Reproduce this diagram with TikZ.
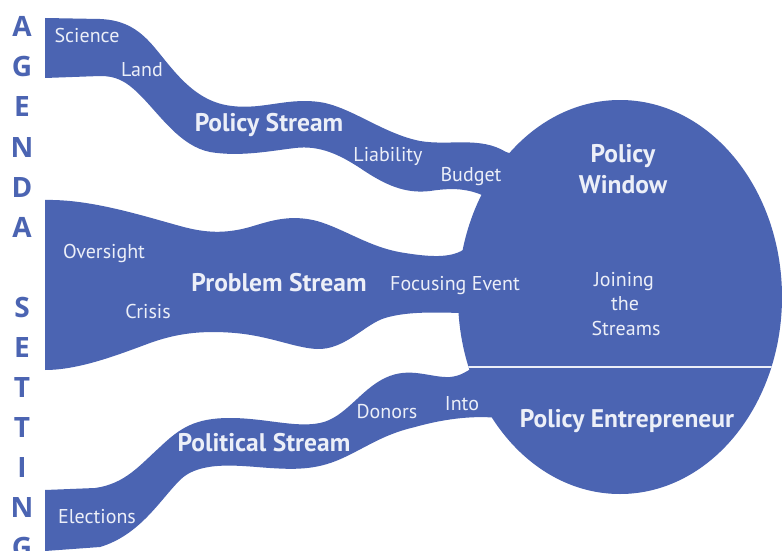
\documentclass[tikz,border=0pt]{standalone}
\usepackage{fontspec}
\setmainfont{PT Sans}
\newfontfamily\sideletterfont{Open Sans}

\definecolor{streamblue}{RGB}{75,100,178}
\definecolor{streamtext}{RGB}{236,239,248}

\tikzset{
	stream/.style={fill=streamblue, draw=none},
	streamword/.style={text=streamtext, anchor=base, inner sep=0pt, font=\fontsize{20}{23}\selectfont},
	streamname/.style={text=streamtext, anchor=base, inner sep=0pt, font=\bfseries\fontsize{25.5}{28}\selectfont},
	sideletter/.style={text=streamblue, anchor=base, inner sep=0pt, font=\sideletterfont\bfseries\fontsize{28}{30}\selectfont}
}

\begin{document}
\begin{tikzpicture}[x=1pt, y=-1pt]
				% window setup
				
				\def\cx{620}
				\def\cy{297}
				
				\def\rx{162}
				\def\ry{197}
				
				\clip (0,0) rectangle (782,551);
				\fill[white] (0,0) rectangle (782,551);
				
				% policy stream
				\fill[stream] (45,18) -- (100,19)
					.. controls (125,20) and (140,30) .. (155,48)
					.. controls (175,72) and (195,102) .. (232,106)
					.. controls (265,110) and (290,96) .. (325,103)
					.. controls (355,110) and (385,134) .. (420,141)
					.. controls (450,146) and (480,136) .. (506,152)
					-- (560,170) -- (530,200) -- (482,195)
					.. controls (465,188) and (450,188) .. (430,191)
					.. controls (405,194) and (385,185) .. (360,168)
					.. controls (340,155) and (320,145) .. (295,148)
					.. controls (270,151) and (240,157) .. (210,152)
					.. controls (180,146) and (160,115) .. (140,95)
					.. controls (125,80) and (115,76) .. (100,76)
					-- (45,78) -- cycle;
				
				% problem stream
				\fill[stream] (45,200)
					.. controls (90,199) and (140,215) .. (180,226)
					.. controls (205,233) and (225,234) .. (250,227)
					.. controls (270,221) and (290,214) .. (317,221)
					.. controls (345,229) and (370,248) .. (405,253)
					.. controls (430,257) and (450,258) .. (463,250)
					-- (530,250) -- (530,313) -- (460,313)
					.. controls (430,312) and (405,312) .. (385,318)
					.. controls (365,324) and (345,350) .. (317,349)
					.. controls (295,348) and (270,336) .. (235,333)
					.. controls (200,330) and (175,334) .. (150,343)
					.. controls (120,354) and (80,370) .. (45,370)
					-- cycle;
				
				% political stream
				\fill[stream] (45,490) -- (95,488)
					.. controls (125,484) and (140,465) .. (160,447)
					.. controls (180,428) and (195,418) .. (230,418)
					.. controls (265,418) and (295,428) .. (320,423)
					.. controls (345,418) and (360,390) .. (385,378)
					.. controls (410,366) and (430,378) .. (450,377)
					.. controls (460,376) and (466,372) .. (472,368)
					-- (540,380) -- (540,420) -- (498,418)
					.. controls (470,415) and (440,420) .. (415,427)
					.. controls (385,434) and (370,445) .. (345,457)
					.. controls (320,469) and (300,470) .. (270,468)
					.. controls (240,466) and (200,460) .. (180,480)
					.. controls (160,500) and (140,535) .. (100,547)
					-- (45,551) -- (45,560) -- cycle;
				
				% policy window
				\fill[stream] (\cx,\cy) ellipse [x radius=\rx, y radius=\ry];
				\begin{scope}
					\clip (\cx,\cy) ellipse [x radius=\rx, y radius=\ry];
					\draw[streamtext, line width=1.5pt] (0,367) -- (782,367);
				\end{scope}
				
				% words
				\node[streamword] (science) at (87,43) {Science};
				\node[streamword] (land) at (142,77) {Land};
				\node[streamname] (policy) at (269,131) {Policy Stream};
				\node[streamword] (liability) at (388,161) {Liability};
				\node[streamword] (budget) at (471,181) {Budget};
				\node[streamname] (window1) at (623,162) {Policy};
				\node[streamname] (window2) at (623,193) {Window};
				\node[streamword] (oversight) at (104,258) {Oversight};
				\node[streamname] (problem) at (279,291) {Problem Stream};
				\node[streamword] (crisis) at (148,318) {Crisis};
				\node[streamword] (focusing) at (455,290) {Focusing Event};
				\node[streamword] (joining1) at (624,286) {Joining};
				\node[streamword] (joining2) at (625,310) {the};
				\node[streamword] (joining3) at (626,335) {Streams};
				\node[streamname] (political) at (264,451) {Political Stream};
				\node[streamword] (elections) at (97,523) {Elections};
				\node[streamword] (donors) at (387,418) {Donors};
				\node[streamword] (into) at (462,410) {Into};
				\node[streamname] (entrepreneur) at (627,427) {Policy Entrepreneur};
				
				% agenda setting
				\foreach \ch [count=\i] in {A,G,E,N,D,A,{},S,E,T,T,I,N,G}
					\node[sideletter] (side\i) at (22,{37+40*(\i-1)}) {\ch};
\end{tikzpicture}
\end{document}
